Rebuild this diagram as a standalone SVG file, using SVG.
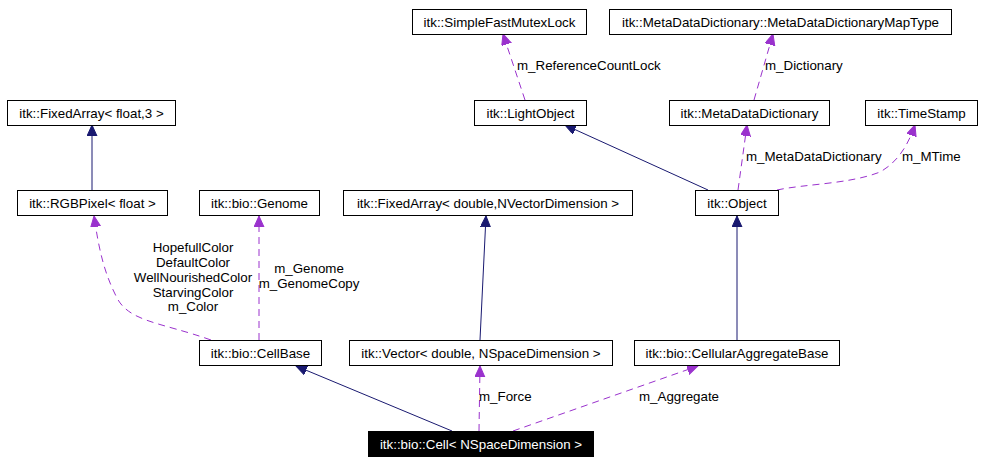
<svg xmlns="http://www.w3.org/2000/svg" width="988" height="463" viewBox="0 0 988 463">
<style>
  .box { fill: #ffffff; stroke: #000000; stroke-width: 1; }
  .boxh { fill: #000000; stroke: #000000; stroke-width: 1; }
  text { font-family: "Liberation Sans", Arial, Helvetica, sans-serif; font-size: 13.33px; fill: #000000; }
  .nt { text-anchor: middle; }
  .nth { text-anchor: middle; fill: #ffffff; }
  .inh { fill: none; stroke: #191970; stroke-width: 1; marker-end: url(#aNavy); }
  .use { fill: none; stroke: #9a32cd; stroke-width: 1; stroke-dasharray: 7,5; marker-end: url(#aPurple); }
  .lbl { text-anchor: start; }
  .lblm { text-anchor: middle; }
</style>
<defs>
  <marker id="aNavy" markerUnits="userSpaceOnUse" markerWidth="13" markerHeight="12" refX="11" refY="5" orient="auto">
    <path d="M0,0 L11,5 L0,10 z" fill="#191970" stroke="#191970" stroke-width="1"/>
  </marker>
  <marker id="aPurple" markerUnits="userSpaceOnUse" markerWidth="13" markerHeight="12" refX="11" refY="5" orient="auto">
    <path d="M0,0 L11,5 L0,10 z" fill="#9a32cd" stroke="#9a32cd" stroke-width="1"/>
  </marker>
</defs>
<rect width="988" height="463" fill="#ffffff"/>

<g id="connectors">
  <g id="e_object_lightobject"><path class="inh" d="M708,190 L565,125"/></g>
  <g id="e_lightobject_sfml"><path class="use" d="M525,100 L503,34"/><text class="lbl" x="517" y="70">m_ReferenceCountLock</text></g>
  <g id="e_mdd_maptype"><path class="use" d="M754,100 L773,34"/><text class="lbl" x="765" y="70">m_Dictionary</text></g>
  <g id="e_object_mdd"><path class="use" d="M738,190 L747,125"/><text class="lbl" x="746" y="161">m_MetaDataDictionary</text></g>
  <g id="e_object_timestamp"><path class="use" d="M777,190 C805,184 850,184 880,172 C898,162 908,145 915,125"/><text class="lbl" x="902" y="161">m_MTime</text></g>
  <g id="e_rgbpixel_fixedfloat"><path class="inh" d="M92,190 L92,125"/></g>
  <g id="e_cellbase_rgbpixel"><path class="use" d="M211,340 C160,322 128,322 116,296 C104,272 99,250 94,216"/>
    <text class="lblm" x="193" y="251.5">HopefullColor</text>
    <text class="lblm" x="193" y="266.5">DefaultColor</text>
    <text class="lblm" x="193" y="281.5">WellNourishedColor</text>
    <text class="lblm" x="193" y="296.5">StarvingColor</text>
    <text class="lblm" x="193" y="311">m_Color</text>
  </g>
  <g id="e_cellbase_genome"><path class="use" d="M259,340 L259,216"/>
    <text class="lblm" x="309" y="273">m_Genome</text>
    <text class="lblm" x="309" y="288">m_GenomeCopy</text>
  </g>
  <g id="e_vector_fixeddouble"><path class="inh" d="M480,340 L486,216"/></g>
  <g id="e_aggbase_object"><path class="inh" d="M737,340 L737,216"/></g>
  <g id="e_cell_cellbase"><path class="inh" d="M452,431 L296,366"/></g>
  <g id="e_cell_vector"><path class="use" d="M479,431 L480,366"/><text class="lbl" x="479" y="401">m_Force</text></g>
  <g id="e_cell_aggbase"><path class="use" d="M513,431 L698,366"/><text class="lbl" x="639" y="401">m_Aggregate</text></g>
</g>

<g id="n_sfml"><rect class="box" x="412.5" y="9.5" width="174" height="25"/><text class="nt" x="499.5" y="26.5">itk::SimpleFastMutexLock</text></g>
<g id="n_maptype"><rect class="box" x="609.5" y="9.5" width="342" height="25"/><text class="nt" x="780.5" y="26.5">itk::MetaDataDictionary::MetaDataDictionaryMapType</text></g>
<g id="n_lightobject"><rect class="box" x="474.5" y="100.5" width="112" height="25"/><text class="nt" x="530.5" y="117.5">itk::LightObject</text></g>
<g id="n_mdd"><rect class="box" x="669.5" y="100.5" width="160" height="25"/><text class="nt" x="749.5" y="117.5">itk::MetaDataDictionary</text></g>
<g id="n_timestamp"><rect class="box" x="865.5" y="100.5" width="112" height="25"/><text class="nt" x="921.5" y="117.5">itk::TimeStamp</text></g>
<g id="n_fixedfloat"><rect class="box" x="7.5" y="100.5" width="168" height="25"/><text class="nt" x="91.5" y="117.5">itk::FixedArray&lt; float,3 &gt;</text></g>
<g id="n_rgbpixel"><rect class="box" x="17.5" y="190.5" width="150" height="25"/><text class="nt" x="92.5" y="207.5">itk::RGBPixel&lt; float &gt;</text></g>
<g id="n_genome"><rect class="box" x="199.5" y="190.5" width="120" height="25"/><text class="nt" x="259.5" y="207.5">itk::bio::Genome</text></g>
<g id="n_fixeddouble"><rect class="box" x="343.5" y="190.5" width="289" height="25"/><text class="nt" x="488" y="207.5">itk::FixedArray&lt; double,NVectorDimension &gt;</text></g>
<g id="n_object"><rect class="box" x="695.5" y="190.5" width="83" height="25"/><text class="nt" x="737" y="207.5">itk::Object</text></g>
<g id="n_cellbase"><rect class="box" x="199.5" y="340.5" width="122" height="25"/><text class="nt" x="260.5" y="357.5">itk::bio::CellBase</text></g>
<g id="n_vector"><rect class="box" x="349.5" y="340.5" width="263" height="25"/><text class="nt" x="481" y="357.5">itk::Vector&lt; double, NSpaceDimension &gt;</text></g>
<g id="n_aggbase"><rect class="box" x="634.5" y="340.5" width="205" height="25"/><text class="nt" x="737" y="357.5">itk::bio::CellularAggregateBase</text></g>
<g id="n_cell"><rect class="boxh" x="368.5" y="431.5" width="225" height="25"/><text class="nth" x="481" y="448.5">itk::bio::Cell&lt; NSpaceDimension &gt;</text></g>
</svg>
